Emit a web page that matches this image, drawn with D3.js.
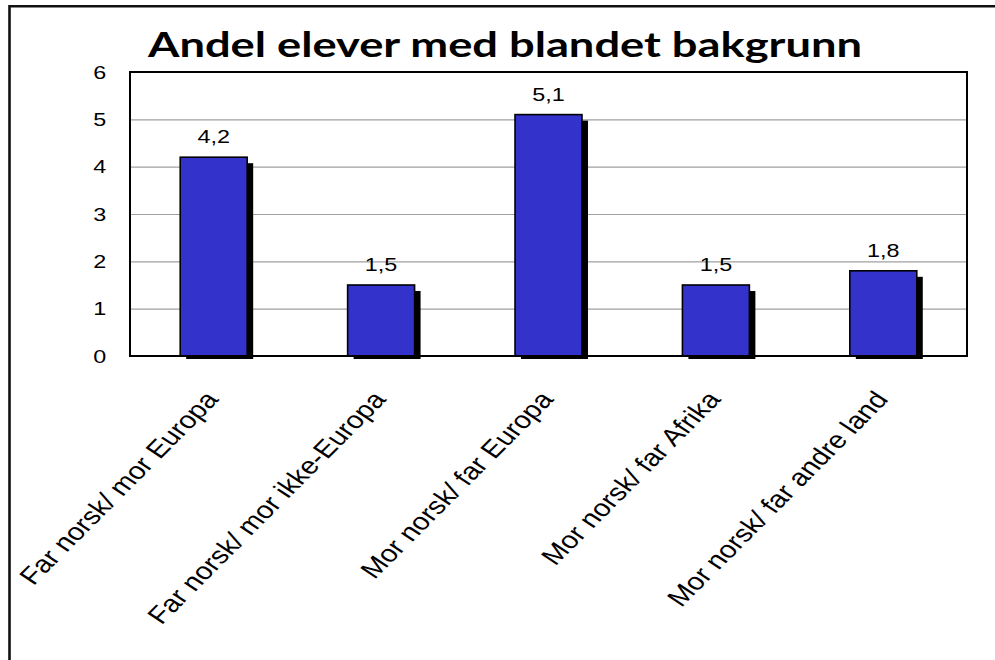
<!DOCTYPE html>
<html>
<head>
<meta charset="utf-8">
<script src="https://cdn.jsdelivr.net/npm/d3@7"></script>
<style>
  html, body { margin: 0; padding: 0; background: #fff; }
  svg { display: block; }
</style>
</head>
<body>
<svg id="chart" width="995" height="660"></svg>
<script>
const title = "Andel elever med blandet bakgrunn";
const categories = [
  "Far norsk/ mor Europa",
  "Far norsk/ mor ikke-Europa",
  "Mor norsk/ far Europa",
  "Mor norsk/ far Afrika",
  "Mor norsk/ far andre land"
];
const values = [4.2, 1.5, 5.1, 1.5, 1.8];
const valueLabels = ["4,2", "1,5", "5,1", "1,5", "1,8"];
const yTicks = [0, 1, 2, 3, 4, 5, 6];

const svg = d3.select("#chart");
const W = 995, H = 660;
const plot = { left: 130, right: 967, top: 72, bottom: 356 };
const stretch = 1.23;           // horizontal stretch seen in the reference text
const rotAngle = Math.atan(stretch) * 180 / Math.PI; // gives 45° on screen after stretch
const sansFont = "'Liberation Sans', Arial, sans-serif";

svg.append("rect").attr("width", W).attr("height", H).attr("fill", "#fff");

// outer frame (only top and left edges visible)
svg.append("path")
  .attr("d", `M9.5,${H} L9.5,6.2 L${W},6.2`)
  .attr("fill", "none").attr("stroke", "#111").attr("stroke-width", 2.6);

const x = d3.scaleBand().domain(categories).range([plot.left, plot.right])
  .paddingInner(0.6).paddingOuter(0.3);
const y = d3.scaleLinear().domain([0, 6]).range([plot.bottom, plot.top]);

// gridlines
svg.append("g")
  .attr("transform", `translate(${plot.left},0)`)
  .call(d3.axisLeft(y).tickValues(yTicks.filter(t => t > 0 && t < 6))
    .tickSize(-(plot.right - plot.left)).tickFormat(""))
  .call(g => g.select(".domain").remove())
  .call(g => g.selectAll("line").attr("stroke", "#a0a0a0").attr("stroke-width", 1.2));

// shadows
const data = categories.map((c, i) => ({ c, v: values[i], label: valueLabels[i] }));
svg.append("g").selectAll("rect").data(data).join("rect")
  .attr("x", d => x(d.c) + 6)
  .attr("y", d => y(d.v) + 6)
  .attr("width", x.bandwidth())
  .attr("height", d => y(0) + 3 - (y(d.v) + 6))
  .attr("fill", "#000");

// bars
svg.append("g").selectAll("rect").data(data).join("rect")
  .attr("x", d => x(d.c))
  .attr("y", d => y(d.v))
  .attr("width", x.bandwidth())
  .attr("height", d => y(0) - y(d.v))
  .attr("fill", "#3333CC")
  .attr("stroke", "#000")
  .attr("stroke-width", 1.6);

// plot border
svg.append("rect")
  .attr("x", plot.left).attr("y", plot.top)
  .attr("width", plot.right - plot.left).attr("height", plot.bottom - plot.top)
  .attr("fill", "none").attr("stroke", "#000").attr("stroke-width", 2);

// value labels
svg.append("g").selectAll("text").data(data).join("text")
  .attr("transform", d => `translate(${x(d.c) + x.bandwidth() / 2},${y(d.v) - 14}) scale(${stretch},1)`)
  .attr("text-anchor", "middle")
  .attr("font-family", sansFont)
  .attr("font-size", 19)
  .attr("fill", "#000")
  .text(d => d.label);

// y axis labels
svg.append("g")
  .attr("transform", `translate(110,0)`)
  .call(d3.axisLeft(y).tickValues(yTicks).tickSize(0).tickPadding(3).tickFormat(d3.format("d")))
  .call(g => g.select(".domain").remove())
  .call(g => g.selectAll("text")
    .attr("font-family", sansFont)
    .attr("font-size", 19)
    .attr("fill", "#000")
    .attr("transform", `scale(${stretch},1)`));

// x axis labels
svg.append("g")
  .attr("transform", `translate(0,${plot.bottom})`)
  .call(d3.axisBottom(x).tickSize(0).tickPadding(0))
  .call(g => g.select(".domain").remove())
  .call(g => g.selectAll("text")
    .attr("x", 0).attr("y", 0).attr("dy", 0)
    .attr("text-anchor", "end")
    .attr("font-family", sansFont)
    .attr("font-size", 24)
    .attr("fill", "#000")
    .attr("transform", `translate(6,44) scale(${stretch},1) rotate(${-rotAngle})`));

// title
svg.append("text")
  .attr("x", 148).attr("y", 57)
  .attr("font-family", "Lato, 'Open Sans', sans-serif")
  .attr("font-weight", 700)
  .attr("font-size", 35)
  .attr("textLength", 714)
  .attr("lengthAdjust", "spacingAndGlyphs")
  .attr("fill", "#000")
  .text(title);
</script>
</body>
</html>
